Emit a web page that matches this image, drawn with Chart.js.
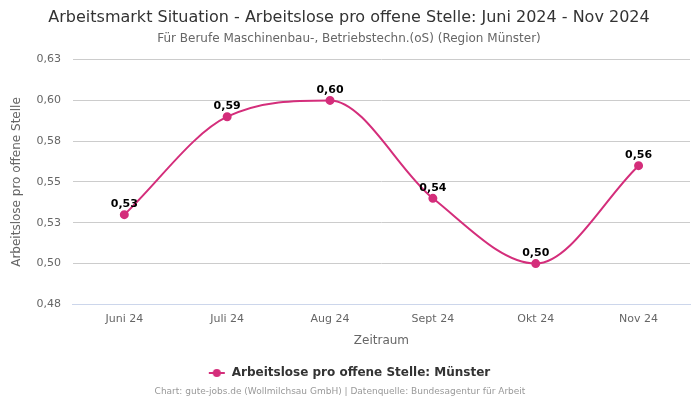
<!DOCTYPE html>
<html><head><meta charset="utf-8">
<script src="https://cdn.jsdelivr.net/npm/chart.js@4/dist/chart.umd.min.js"></script>
<style>html,body{margin:0;padding:0;background:#fff}#wrap{width:700px;height:400px}</style>
</head><body><div id="wrap"><canvas id="c"></canvas></div>
<script>
const categories = ["Juni 24","Juli 24","Aug 24","Sept 24","Okt 24","Nov 24"];
const values = [0.53, 0.59, 0.60, 0.54, 0.50, 0.56];
const seriesName = "Arbeitslose pro offene Stelle: Münster";
const titleText = "Arbeitsmarkt Situation - Arbeitslose pro offene Stelle: Juni 2024 - Nov 2024";
const subtitleText = "Für Berufe Maschinenbau-, Betriebstechn.(oS) (Region Münster)";
const creditText = "Chart: gute-jobs.de (Wollmilchsau GmbH) | Datenquelle: Bundesagentur für Arbeit";
const color = "#d42e7b";
const fmt = v => (v + 1e-9).toFixed(2).replace(".", ",");

Chart.defaults.font.family = "'DejaVu Sans', sans-serif";

const legendIcon = document.createElement("canvas");
legendIcon.width = 18; legendIcon.height = 10;
(function(){
  const g = legendIcon.getContext("2d");
  g.strokeStyle = color; g.lineWidth = 2;
  g.beginPath(); g.moveTo(1, 5); g.lineTo(17, 5); g.stroke();
  g.fillStyle = color; g.beginPath(); g.arc(9, 5, 4, 0, Math.PI * 2); g.fill();
})();

const labelPlugin = {
  id: "pointLabels",
  afterDatasetsDraw(chart) {
    const ctx = chart.ctx;
    const meta = chart.getDatasetMeta(0);
    ctx.save();
    ctx.font = "bold 11px 'DejaVu Sans', sans-serif";
    ctx.fillStyle = "#000";
    ctx.textAlign = "center";
    ctx.textBaseline = "bottom";
    meta.data.forEach((pt, i) => {
      ctx.fillText(fmt(values[i]), pt.x, pt.y - 5);
    });
    ctx.restore();
  }
};
const creditPlugin = {
  id: "credit",
  afterDraw(chart) {
    const ctx = chart.ctx;
    ctx.save();
    ctx.font = "9px 'DejaVu Sans', sans-serif";
    ctx.fillStyle = "#999";
    ctx.textAlign = "center";
    ctx.textBaseline = "middle";
    ctx.fillText(creditText, 340, 392);
    ctx.restore();
  }
};

new Chart(document.getElementById("c"), {
  type: "line",
  data: {
    labels: categories,
    datasets: [{
      label: seriesName,
      data: values,
      borderColor: color,
      backgroundColor: color,
      borderWidth: 2,
      pointRadius: 3.5,
      pointHoverRadius: 3.5,
      cubicInterpolationMode: "monotone",
      fill: false
    }]
  },
  options: {
    responsive: true,
    maintainAspectRatio: false,
    animation: false,
    layout: { padding: { left: 8, right: 10, top: 0, bottom: 11 } },
    plugins: {
      title: { display: true, text: titleText, color: "#333", font: { size: 16, weight: "normal" }, padding: { top: 8, bottom: 4 } },
      subtitle: { display: true, text: subtitleText, color: "#666", font: { size: 12 }, padding: { bottom: 14 } },
      legend: {
        position: "bottom",
        labels: {
          color: "#333", font: { size: 12, weight: "bold" }, usePointStyle: true, pointStyleWidth: 18, boxHeight: 10, padding: 8,
          generateLabels(chart) {
            const items = Chart.defaults.plugins.legend.labels.generateLabels(chart);
            items.forEach(it => { it.pointStyle = legendIcon; });
            return items;
          }
        }
      },
      tooltip: { enabled: false }
    },
    scales: {
      x: {
        offset: true,
        grid: { display: false, drawTicks: false },
        border: { display: true, color: "#ccd6eb" },
        ticks: { color: "#666", font: { size: 11 }, padding: 8 },
        title: { display: true, text: "Zeitraum", color: "#666", font: { size: 12 }, padding: { top: 0, bottom: 11 } }
      },
      y: {
        min: 0.475, max: 0.625,
        border: { display: false },
        grid: { color: "#ccc", drawTicks: false },
        ticks: { stepSize: 0.025, color: "#666", font: { size: 11 }, padding: 12, callback: v => fmt(v) },
        title: { display: true, text: "Arbeitslose pro offene Stelle", color: "#666", font: { size: 12 }, padding: { top: 2, bottom: 0 } }
      }
    }
  },
  plugins: [labelPlugin, creditPlugin]
});
</script></body></html>
